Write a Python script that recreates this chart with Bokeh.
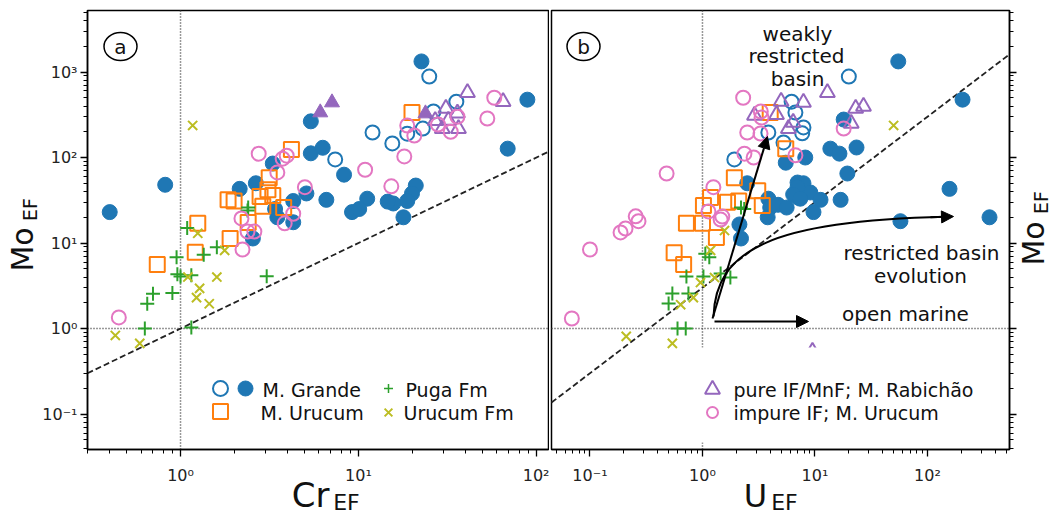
import math
from bokeh.plotting import figure
from bokeh.layouts import row
from bokeh.models import Range1d, CustomJSTickFormatter, Label, Arrow, NormalHead
from bokeh.embed import file_html
from bokeh.resources import INLINE

# ---------------- panel (a): Cr_EF vs Mo_EF ----------------
a_grande_filled_cr = [0.40, 0.82, 5.4, 3.3, 5.4, 6.3, 8.3, 2.15, 2.65, 5.1, 4.3, 6.6, 11.2, 9.2,
                      10.1, 3.4, 3.5, 4.3, 2.55, 22.6, 89, 69, 21, 20, 18.8, 15.7, 14.6, 17.9]
a_grande_filled_mo = [23, 48, 265, 85, 112, 130, 63, 43, 50, 38, 31, 32, 33, 23,
                      25, 25, 20, 17.5, 11.3, 1330, 475, 127, 47, 38, 31, 29, 30.5, 20]
a_grande_open_cr = [12, 7.4, 25, 26.4, 35.5, 18.8, 23, 15.5]
a_grande_open_mo = [196, 95, 885, 345, 450, 190, 218, 146]
a_urucum_cr = [4.2, 3.15, 1.85, 2.0, 3.1, 2.8, 3.3, 2.9, 3.8, 2.4, 1.9, 1.25, 1.21, 0.74, 20]
a_urucum_mo = [124, 58, 32, 31, 42, 35, 36, 27, 26, 17.4, 11.3, 17, 7.8, 5.6, 335]
a_impure_cr = [2.75, 3.75, 3.95, 10.9, 3.5, 5.0, 4.3, 3.85, 2.2, 2.38, 2.6, 2.23, 0.45,
               58, 36, 28, 33, 18.8, 20.6, 53, 18.1, 15.3]
a_impure_mo = [111, 97, 105, 72, 67, 45, 22, 17, 19.4, 13.6, 13.6, 8.4, 1.35,
               500, 300, 243, 200, 237, 181, 286, 103, 46]
a_pure_filled_cr = [6.1, 7.1, 23.8]
a_pure_filled_mo = [336, 440, 327]
a_pure_cr = [41, 65, 31, 36, 32, 29.6, 36.5, 27]
a_pure_mo = [575, 450, 374, 330, 271, 218, 218, 270]
a_puga_cr = [2.4, 2.38, 1.09, 1.35, 1.6, 0.95, 0.96, 1.0, 1.15, 3.05, 0.70, 0.65, 0.90, 0.63, 1.15]
a_puga_mo = [26, 24, 15, 7.3, 8.9, 6.8, 4.3, 4.05, 4.2, 4.1, 2.55, 1.95, 2.6, 1.0, 1.03]
a_urucumfm_cr = [1.17, 1.25, 1.77, 1.1, 1.6, 1.28, 1.23, 1.45, 0.43, 0.59]
a_urucumfm_mo = [237, 13, 8.2, 4.0, 4.0, 2.95, 2.3, 1.95, 0.83, 0.67]

# ---------------- panel (b): U_EF vs Mo_EF ----------------
b_grande_filled_u = [55, 205, 18, 13.7, 16.5, 23.4, 8.2, 19.4, 7.0, 7.9, 9.1, 7.1, 11.2, 16.9, 9.7,
                     157, 57.5, 356, 5.5, 2.5, 3.85, 4.0, 4.7, 5.6, 3.8, 7.0, 6.4, 7.4, 2.13, 2.2]
b_grande_filled_mo = [1330, 475, 278, 127, 111, 131, 100, 65, 51, 50, 39, 34, 32, 32, 23,
                      43, 18, 20, 87, 50, 33, 26, 28, 26, 20, 45, 37, 33, 16.5, 11.3]
b_grande_open_u = [20, 6.2, 6.7, 3.85, 7.9, 7.7, 5.25, 1.92]
b_grande_open_mo = [885, 450, 336, 196, 225, 192, 150, 95]
b_urucum_u = [4.0, 5.5, 1.92, 1.18, 1.67, 2.1, 3.1, 1.02, 0.72, 1.0, 1.33, 0.56, 0.68, 3.4]
b_urucum_mo = [336, 127, 58, 34, 30, 31, 41, 27.5, 17, 17, 11.6, 7.7, 5.6, 27.5]
b_impure_u = [2.3, 3.3, 3.35, 2.5, 3.28, 2.36, 2.85, 6.7, 1.25, 1.13, 1.5, 1.45, 0.48,
              0.255, 0.27, 0.207, 0.187, 0.1, 0.069, 18]
b_impure_mo = [500, 345, 294, 196, 191, 111, 100, 106, 45, 23.4, 20.4, 18.8, 65,
               20.5, 18, 14.8, 13.3, 8.4, 1.31, 218]
b_pure_u = [2.9, 4.55, 5.0, 7.9, 5.8, 6.4, 12.9, 23, 27, 21, 9.5]
b_pure_mo = [310, 318, 452, 440, 218, 257, 575, 374, 395, 250, 0.54]
b_puga_u = [1.06, 1.15, 2.2, 2.35, 0.72, 1.02, 1.45, 1.77, 0.54, 0.5, 0.75, 0.6, 0.71]
b_puga_mo = [7.5, 6.8, 26, 25, 4.05, 4.05, 4.4, 3.95, 2.57, 1.96, 2.57, 1.0, 1.0]
b_urucumfm_u = [1.18, 1.57, 0.96, 1.28, 0.83, 0.64, 0.21, 0.54, 50]
b_urucumfm_mo = [8.2, 14, 3.45, 3.95, 2.3, 1.9, 0.81, 0.67, 237]

# reference lines: Mo = Cr (panel a), Mo = 3 x U (panel b)
ratio_a = 1.0
ratio_b = 3.0

# axis limits of the two panels
XA_LIM = (0.30, 117.0)
XB_LIM = (0.0455, 536.0)
Y_LIM = (0.0385, 5240.0)

FONT = "DejaVu Sans"
BLUE, ORANGE, GREEN = "#1f77b4", "#ff7f0e", "#2ca02c"
OLIVE, PURPLE, PINK = "#bcbd22", "#9467bd", "#e377c2"

# page geometry in pixels: the two plot boxes and the canvas strip of each figure
BOX_TOP, BOX_BOTTOM = 10, 449
A_BOX = (87, 548)
B_BOX = (551, 1009)
A_CANVAS = (0, 549)
B_CANVAS = (549, 1051)
PAGE_H = 517


def log_map(lim, p0, p1):
    lo, hi = math.log10(lim[0]), math.log10(lim[1])
    k = (hi - lo) / (p1 - p0)
    return lambda px: 10 ** (lo + (px - p0) * k)


fa = log_map(XA_LIM, *A_BOX)               # page x -> Cr_EF
fb = log_map(XB_LIM, *B_BOX)               # page x -> U_EF
fy = log_map(Y_LIM, BOX_BOTTOM, BOX_TOP)   # page y -> Mo_EF

sup_fmt = CustomJSTickFormatter(code="""
const sup = {"-": "\u207b", "0": "\u2070", "1": "\u00b9", "2": "\u00b2", "3": "\u00b3",
             "4": "\u2074", "5": "\u2075", "6": "\u2076", "7": "\u2077", "8": "\u2078", "9": "\u2079"};
const e = Math.round(Math.log10(tick));
return "10" + String(e).split("").map(c => sup[c]).join("");
""")
blank_fmt = CustomJSTickFormatter(code="return '';")


def make_panel(xlim, fx, canvas, y_side):
    p = figure(width=canvas[1] - canvas[0], height=PAGE_H,
               x_axis_type="log", y_axis_type="log", y_axis_location=y_side,
               x_range=Range1d(fx(canvas[0]), fx(canvas[1])),
               y_range=Range1d(fy(PAGE_H), fy(0)),
               min_border=0, toolbar_location=None, output_backend="svg")
    p.outline_line_color = None
    p.xgrid.visible = False
    p.ygrid.visible = False
    p.background_fill_color = "white"
    p.border_fill_color = "white"
    for ax in p.axis:
        ax.ticker.num_minor_ticks = 10
        ax.axis_line_color = "black"
        ax.axis_line_width = 1.5
        ax.major_tick_line_color = "black"
        ax.major_tick_line_width = 1.3
        ax.minor_tick_line_color = "black"
        ax.minor_tick_line_width = 1
        ax.major_tick_in = 0
        ax.major_tick_out = 7
        ax.minor_tick_in = 0
        ax.minor_tick_out = 4
        ax.major_label_text_font = FONT
        ax.major_label_text_font_size = "16px"
        ax.major_label_text_color = "#222222"
        ax.formatter = sup_fmt
    # axes pinned to the plot box edges
    p.xaxis.fixed_location = Y_LIM[0]
    p.xaxis.bounds = xlim
    p.xaxis.major_label_standoff = 9
    p.yaxis.fixed_location = xlim[0] if y_side == "left" else xlim[1]
    p.yaxis.bounds = Y_LIM
    p.yaxis.major_label_standoff = 3
    # plot box and reference lines
    p.quad(left=[xlim[0]], right=[xlim[1]], bottom=[Y_LIM[0]], top=[Y_LIM[1]],
           fill_color=None, line_color="black", line_width=1.5)
    p.segment(x0=[1], y0=[Y_LIM[0]], x1=[1], y1=[Y_LIM[1]], line_color="#333333", line_width=1.5, line_dash="1 2")
    p.segment(x0=[xlim[0]], y0=[1], x1=[xlim[1]], y1=[1], line_color="#333333", line_width=1.5, line_dash="1 2")
    return p


def label(p, x, y, text, size, angle=0.0, align="center"):
    p.add_layout(Label(x=x, y=y, text=text, angle=angle, text_font=FONT,
                       text_font_size=size, text_color="#111111",
                       text_align=align, text_baseline="middle"))


def series(p, xs, ys, kind, color, size, filled=False):
    if filled:
        p.scatter(xs, ys, marker=kind, size=size, fill_color=color, line_color=color)
    else:
        p.scatter(xs, ys, marker=kind, size=size, fill_color=None, line_color=color, line_width=2)


def tag(p, fx, px, letter):
    p.ellipse(x=[fx(px)], y=[fy(46)], width=33, height=28, width_units="screen", height_units="screen",
              fill_color="white", line_color="black", line_width=1.5)
    label(p, fx(px), fy(46), letter, "20px")


# ================= panel (a) =================
pa = make_panel(XA_LIM, fa, A_CANVAS, "left")
pa.line([XA_LIM[0], XA_LIM[1]], [ratio_a * XA_LIM[0], ratio_a * XA_LIM[1]],
        line_color="#222222", line_width=1.8, line_dash="6 3")

series(pa, a_grande_filled_cr, a_grande_filled_mo, "circle", BLUE, 15, filled=True)
series(pa, a_grande_open_cr, a_grande_open_mo, "circle", BLUE, 14)
series(pa, a_urucum_cr, a_urucum_mo, "square", ORANGE, 15)
series(pa, a_puga_cr, a_puga_mo, "cross", GREEN, 14)
series(pa, a_urucumfm_cr, a_urucumfm_mo, "x", OLIVE, 13)
series(pa, a_pure_filled_cr, a_pure_filled_mo, "triangle", PURPLE, 15, filled=True)
series(pa, a_pure_cr, a_pure_mo, "triangle", PURPLE, 15)
series(pa, a_impure_cr, a_impure_mo, "circle", PINK, 14)

# legend of panel (a)
pa.scatter([fa(220)], [fy(388)], marker="circle", size=15, fill_color=None, line_color=BLUE, line_width=2)
pa.scatter([fa(245)], [fy(388)], marker="circle", size=15, fill_color=BLUE, line_color=BLUE)
pa.scatter([fa(220)], [fy(411)], marker="square", size=15, fill_color=None, line_color=ORANGE, line_width=2)
pa.scatter([fa(388)], [fy(388)], marker="cross", size=9, line_color=GREEN, line_width=1.5)
pa.scatter([fa(388)], [fy(412)], marker="x", size=11, line_color=OLIVE, line_width=2)
label(pa, fa(262), fy(389), "M. Grande", "19px", align="left")
label(pa, fa(260), fy(412), "M. Urucum", "19px", align="left")
label(pa, fa(405), fy(389), "Puga Fm", "19px", align="left")
label(pa, fa(403), fy(412), "Urucum Fm", "19px", align="left")

tag(pa, fa, 120, "a")

# axis titles
label(pa, fa(310), fy(494), "Cr", "34px")
label(pa, fa(346), fy(502), "EF", "22px")
label(pa, fa(22), fy(249), "Mo", "30px", angle=math.pi / 2)
label(pa, fa(29), fy(209), "EF", "19px", angle=math.pi / 2)

# ================= panel (b) =================
pb = make_panel(XB_LIM, fb, B_CANVAS, "right")
pb.yaxis.formatter = blank_fmt
pb.line([XB_LIM[0], XB_LIM[1]], [ratio_b * XB_LIM[0], ratio_b * XB_LIM[1]],
        line_color="#222222", line_width=1.8, line_dash="6 3")

series(pb, b_grande_filled_u, b_grande_filled_mo, "circle", BLUE, 15, filled=True)
series(pb, b_grande_open_u, b_grande_open_mo, "circle", BLUE, 14)
series(pb, b_urucum_u, b_urucum_mo, "square", ORANGE, 15)
series(pb, b_puga_u, b_puga_mo, "cross", GREEN, 14)
series(pb, b_urucumfm_u, b_urucumfm_mo, "x", OLIVE, 13)
series(pb, b_pure_u, b_pure_mo, "triangle", PURPLE, 15)
series(pb, b_impure_u, b_impure_mo, "circle", PINK, 14)

# legend of panel (b) on a white patch
pb.quad(left=[fb(699)], right=[fb(1006)], top=[fy(347)], bottom=[fy(442)],
        fill_color="white", line_color=None)
pb.scatter([fb(712)], [fy(389)], marker="triangle", size=15, fill_color=None, line_color=PURPLE, line_width=2)
pb.scatter([fb(712)], [fy(412)], marker="circle", size=11, fill_color=None, line_color=PINK, line_width=2)
label(pb, fb(733), fy(389), "pure IF/MnF; M. Rabichão", "19px", align="left")
label(pb, fb(733), fy(412), "impure IF; M. Urucum", "19px", align="left")

# basin evolution arrows
head = dict(size=12, fill_color="black", line_color="black", line_width=1)
pb.add_layout(Arrow(end=NormalHead(**head), x_start=fb(712), y_start=fy(318),
                    x_end=fb(767), y_end=fy(136), line_width=2, line_color="black"))
pb.add_layout(Arrow(end=NormalHead(**head), x_start=fb(714), y_start=fy(321),
                    x_end=fb(808), y_end=fy(321), line_width=2, line_color="black"))
pb.bezier(x0=[fb(713)], y0=[fy(316)], x1=[fb(945)], y1=[fy(216.3)],
          cx0=[fb(715)], cy0=[fy(250)], cx1=[fb(770)], cy1=[fy(220)],
          line_color="black", line_width=2)
pb.add_layout(Arrow(end=NormalHead(**head), x_start=fb(930), y_start=fy(216.8),
                    x_end=fb(953), y_end=fy(216), line_width=2, line_color="black"))

label(pb, fb(797), fy(33), "weakly", "20px")
label(pb, fb(796), fy(55), "restricted", "20px")
label(pb, fb(797), fy(78), "basin", "20px")
label(pb, fb(921), fy(252), "restricted basin", "20px")
label(pb, fb(920), fy(275), "evolution", "20px")
label(pb, fb(905), fy(313), "open marine", "20px")

tag(pb, fb, 583, "b")

label(pb, fb(755), fy(495), "U", "32px")
label(pb, fb(784), fy(502), "EF", "22px")
label(pb, fb(1033), fy(243), "Mo", "30px", angle=math.pi / 2)
label(pb, fb(1040), fy(202), "EF", "19px", angle=math.pi / 2)

layout = row(pa, pb)
open("out.html", "w").write(file_html(layout, INLINE))
